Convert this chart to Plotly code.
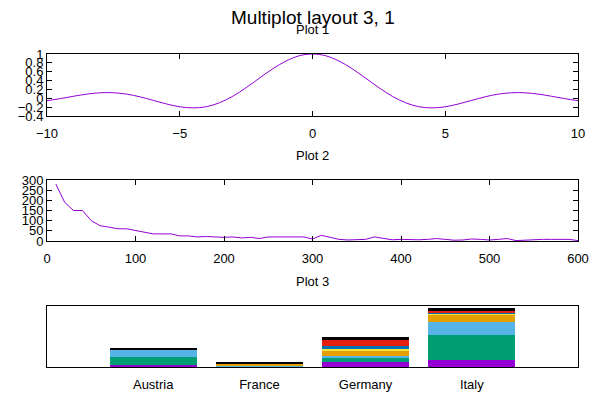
import plotly.graph_objects as go
from plotly.subplots import make_subplots

# Plot 1 - curve
CURVE_X = [-10, -9.5, -9, -8.5, -8, -7.5, -7, -6.5, -6, -5.5, -5, -4.5, -4, -3.5, -3, -2.5, -2, -1.5, -1, -0.5,
           0, 0.5, 1, 1.5, 2, 2.5, 3, 3.5, 4, 4.5, 5, 5.5, 6, 6.5, 7, 7.5, 8, 8.5, 9, 9.5, 10]
CURVE_Y = [-0.054, -0.008, 0.046, 0.094, 0.124, 0.125, 0.094, 0.033, -0.047, -0.128, -0.192, -0.217, -0.19,
           -0.10, 0.047, 0.24, 0.455, 0.665, 0.84, 0.96,
           1.0, 0.96, 0.84, 0.665, 0.455, 0.24, 0.047, -0.10, -0.19, -0.217, -0.192, -0.128, -0.047, 0.033,
           0.094, 0.125, 0.124, 0.094, 0.046, -0.008, -0.054]

# Plot 2 - decaying series
SERIES_X = [10, 20, 30, 40, 50, 60, 70, 80, 90, 100, 110, 120, 130, 140, 150, 160, 170, 180, 190, 200,
            210, 220, 230, 240, 250, 260, 270, 280, 290, 300, 310, 320, 330, 340, 350, 360, 370, 380, 390, 400,
            410, 420, 430, 440, 450, 460, 470, 480, 490, 500, 510, 520, 530, 540, 550, 560, 570, 580, 590, 600]
SERIES_Y = [280, 190, 150, 150, 100, 75, 68, 60, 60, 52, 42, 35, 35, 35, 25, 25, 20, 22, 20, 18,
            20, 15, 18, 12, 20, 20, 20, 20, 20, 10, 28, 18, 8, 5, 5, 8, 20, 12, 6, 8,
            6, 6, 8, 12, 8, 4, 5, 10, 8, 5, 8, 12, 2, 5, 8, 8, 8, 8, 8, 2]

# Plot 3 - row stacked histogram
COUNTRIES = ["Austria", "France", "Germany", "Italy"]
STACK_NAMES = ["c1", "c2", "c3", "c4", "c5", "c6", "c7", "c8"]
STACK_VALUES = [
    [230, 30, 500, 700],      # c1
    [770, 30, 400, 2500],     # c2
    [730, 120, 230, 1330],    # c3
    [0, 130, 500, 670],       # c4
    [0, 0, 170, 100],         # c5
    [40, 0, 330, 130],        # c6
    [0, 30, 570, 200],        # c7
    [130, 70, 300, 270],      # c8
]
STACK_COLORS = ["#9400d3", "#009e73", "#56b4e9", "#e69f00", "#f0e442", "#0072b2", "#e51e10", "#000000"]

FONT = "Liberation Sans, Arial, sans-serif"
LINE_COLOR = "#9400d3"

# page body has an 8px margin, so the figure is a bit smaller than the window
W, H = 584, 384

fig = make_subplots(rows=3, cols=1)

fig.add_trace(go.Scatter(x=CURVE_X, y=CURVE_Y, mode="lines", line=dict(color=LINE_COLOR, width=1, shape="spline")),
              row=1, col=1)
fig.add_trace(go.Scatter(x=SERIES_X, y=SERIES_Y, mode="lines", line=dict(color=LINE_COLOR, width=1)),
              row=2, col=1)

positions = list(range(len(COUNTRIES)))
for name, vals, color in zip(STACK_NAMES, STACK_VALUES, STACK_COLORS):
    fig.add_trace(go.Bar(x=positions, y=vals, name=name, width=0.82,
                         marker=dict(color=color, line=dict(width=0))), row=3, col=1)

frame = dict(showline=True, linecolor="black", linewidth=1, mirror="ticks", ticks="inside",
             tickcolor="black", ticklen=5, showgrid=False, zeroline=False, automargin=False,
             tickfont=dict(family=FONT, size=13, color="black"))

fig.update_xaxes(frame, domain=[0, 1], ticklabelstandoff=5)
fig.update_yaxes(frame)

fig.update_xaxes(range=[-10, 10], dtick=5, row=1, col=1)
fig.update_yaxes(range=[-0.4, 1], dtick=0.2, domain=[1 - 108 / H, 1 - 46 / H], row=1, col=1)
fig.update_xaxes(range=[0, 600], dtick=100, row=2, col=1)
fig.update_yaxes(range=[0, 300], dtick=50, domain=[1 - 233 / H, 1 - 172 / H], row=2, col=1)
fig.update_xaxes(range=[-1, 4], tickvals=positions, ticktext=COUNTRIES, ticks="", mirror=True,
                 ticklabelstandoff=5, row=3, col=1)
fig.update_yaxes(range=[0, 6100], ticks="", showticklabels=False, mirror=True,
                 domain=[1 - 359 / H, 1 - 298 / H], row=3, col=1)

# Titles
fig.add_annotation(text="Multiplot layout 3, 1", xref="paper", yref="paper", x=0.5, y=1 - 10 / H,
                   xanchor="center", yanchor="middle", showarrow=False,
                   font=dict(family=FONT, size=19, color="black"))
for label, ypx in [("Plot 1", 21), ("Plot 2", 147), ("Plot 3", 273)]:
    fig.add_annotation(text=label, xref="paper", yref="paper", x=0.5, y=1 - ypx / H,
                       xanchor="center", yanchor="middle", showarrow=False,
                       font=dict(family=FONT, size=13, color="black"))

fig.update_layout(
    width=W, height=H,
    margin=dict(l=39, r=14, t=0, b=0),
    barmode="stack", bargap=0,
    showlegend=False,
    plot_bgcolor="white", paper_bgcolor="white",
)

fig.write_html("out.html")
